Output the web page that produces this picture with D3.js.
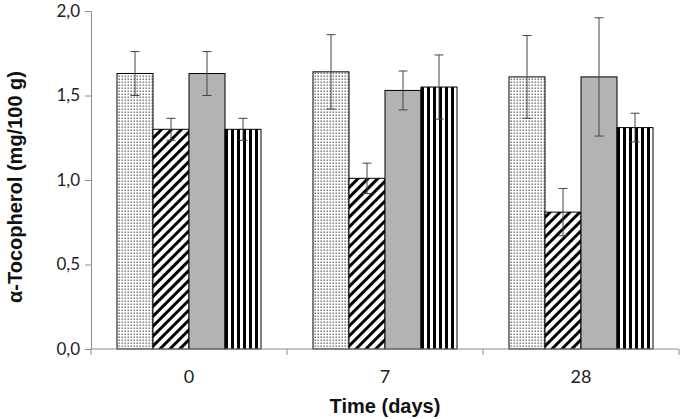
<!DOCTYPE html>
<html>
<head>
<meta charset="utf-8">
<script src="https://cdn.jsdelivr.net/npm/d3@7"></script>
<style>
  body { margin: 0; background: #fff; }
  svg { display: block; }
</style>
</head>
<body>
<div id="chart"></div>
<script>
// # Data
const days = ['0', '7', '28']
const seriesNames = ['dots', 'hatch', 'grey', 'stripes']
const dotsValues = [1.63, 1.64, 1.61]
const dotsErr = [0.13, 0.22, 0.245]
const hatchValues = [1.30, 1.01, 0.81]
const hatchErr = [0.065, 0.09, 0.14]
const greyValues = [1.63, 1.53, 1.61]
const greyErr = [0.13, 0.115, 0.35]
const stripesValues = [1.30, 1.55, 1.31]
const stripesErr = [0.065, 0.19, 0.085]
const yTicks = [0, 0.5, 1.0, 1.5, 2.0]

const width = 682
const height = 419
const margin = {top: 11, right: 3, bottom: 70, left: 91}

const values = [dotsValues, hatchValues, greyValues, stripesValues]
const errors = [dotsErr, hatchErr, greyErr, stripesErr]

// # Flat rows for drawing
const rows = []
days.forEach((day, i) => {
    seriesNames.forEach((s, j) => {
        rows.push({day: day, series: s, value: values[j][i], err: errors[j][i]})
    })
})

const svg = d3.select('#chart')
    .append('svg')
    .attr('width', width)
    .attr('height', height)

// # Fill patterns
const defs = svg.append('defs')

const dots = defs.append('pattern')
    .attr('id', 'p-dots')
    .attr('patternUnits', 'userSpaceOnUse')
    .attr('width', 3).attr('height', 3)
dots.append('rect').attr('width', 3).attr('height', 3).attr('fill', '#fff')
dots.append('rect').attr('x', 0.5).attr('y', 0.5).attr('width', 1.4).attr('height', 1.4).attr('fill', '#666')

const hatch = defs.append('pattern')
    .attr('id', 'p-hatch')
    .attr('patternUnits', 'userSpaceOnUse')
    .attr('width', 7).attr('height', 7)
    .attr('patternTransform', 'rotate(45)')
hatch.append('rect').attr('width', 7).attr('height', 7).attr('fill', '#fff')
hatch.append('rect').attr('x', 0).attr('width', 3).attr('height', 7).attr('fill', '#000')

const stripes = defs.append('pattern')
    .attr('id', 'p-stripes')
    .attr('patternUnits', 'userSpaceOnUse')
    .attr('width', 6).attr('height', 6)
stripes.append('rect').attr('width', 6).attr('height', 6).attr('fill', '#fff')
stripes.append('rect').attr('x', 2).attr('width', 3).attr('height', 6).attr('fill', '#000')

const fills = {dots: 'url(#p-dots)', hatch: 'url(#p-hatch)', grey: '#b3b3b3', stripes: 'url(#p-stripes)'}

// # Scales
const x0 = d3.scaleBand()
    .domain(days)
    .range([margin.left, width - margin.right])
    .paddingInner(0)
    .paddingOuter(0)

const groupPad = 26
const x1 = d3.scaleBand()
    .domain(seriesNames)
    .range([groupPad, x0.bandwidth() - groupPad])

const y = d3.scaleLinear()
    .domain([0, 2])
    .range([height - margin.bottom, margin.top])

const axisColor = '#8c8c8c'

// # Y axis
const yAxis = svg.append('g')
    .attr('transform', 'translate(' + margin.left + ',0)')
    .call(d3.axisLeft(y).tickValues(yTicks).tickSize(6).tickSizeOuter(0)
        .tickFormat(d => d3.format('.1f')(d).replace('.', ',')))
yAxis.select('.domain').attr('stroke', axisColor)
yAxis.selectAll('.tick line').attr('stroke', axisColor)
yAxis.selectAll('.tick text')
    .attr('x', -11)
    .attr('fill', '#222')
    .style('font-family', 'Lato, "Open Sans", sans-serif')
    .style('font-size', '17px')

// # Bars
const groups = svg.append('g')
    .selectAll('g')
    .data(days)
    .enter().append('g')
    .attr('transform', d => 'translate(' + x0(d) + ',0)')

groups.selectAll('rect')
    .data(d => rows.filter(r => r.day === d))
    .enter().append('rect')
    .attr('x', d => x1(d.series))
    .attr('y', d => y(d.value))
    .attr('width', x1.bandwidth())
    .attr('height', d => y(0) - y(d.value))
    .attr('fill', d => fills[d.series])
    .attr('stroke', '#000')
    .attr('stroke-width', 1)

// # Error bars
const capW = 4.5
const errG = groups.selectAll('g.err')
    .data(d => rows.filter(r => r.day === d))
    .enter().append('g')
    .attr('class', 'err')
    .attr('stroke', '#444')
    .attr('stroke-width', 1)
const cx = d => x1(d.series) + x1.bandwidth() / 2
errG.append('line')
    .attr('x1', cx).attr('x2', cx)
    .attr('y1', d => y(d.value + d.err))
    .attr('y2', d => y(d.value - d.err))
errG.append('line')
    .attr('x1', d => cx(d) - capW).attr('x2', d => cx(d) + capW)
    .attr('y1', d => y(d.value + d.err)).attr('y2', d => y(d.value + d.err))
errG.append('line')
    .attr('x1', d => cx(d) - capW).attr('x2', d => cx(d) + capW)
    .attr('y1', d => y(d.value - d.err)).attr('y2', d => y(d.value - d.err))

// # X axis (ticks sit on category boundaries)
const xAxisG = svg.append('g')
    .attr('transform', 'translate(0,' + y(0) + ')')
xAxisG.append('line')
    .attr('x1', margin.left).attr('x2', width - margin.right)
    .attr('stroke', axisColor)
const boundaries = [x0.range()[0]].concat(days.map(d => x0(d) + x0.bandwidth()))
xAxisG.selectAll('line.tk')
    .data(boundaries)
    .enter().append('line')
    .attr('class', 'tk')
    .attr('x1', d => d).attr('x2', d => d)
    .attr('y1', 0).attr('y2', 6)
    .attr('stroke', axisColor)
xAxisG.selectAll('text')
    .data(days)
    .enter().append('text')
    .attr('x', d => x0(d) + x0.bandwidth() / 2)
    .attr('y', 34)
    .attr('text-anchor', 'middle')
    .attr('fill', '#222')
    .style('font-family', 'Lato, "Open Sans", sans-serif')
    .style('font-size', '18px')
    .text(d => d)

// # Axis titles
svg.append('text')
    .attr('x', (margin.left + width - margin.right) / 2)
    .attr('y', 413)
    .attr('text-anchor', 'middle')
    .style('font-family', '"Liberation Sans", Arial, sans-serif')
    .style('font-weight', 'bold')
    .style('font-size', '20px')
    .attr('fill', '#111')
    .text('Time (days)')

svg.append('text')
    .attr('transform', 'translate(22,' + 187 + ') rotate(-90)')
    .attr('text-anchor', 'middle')
    .style('font-family', '"Liberation Sans", Arial, sans-serif')
    .style('font-weight', 'bold')
    .style('font-size', '20px')
    .attr('fill', '#111')
    .text('α-Tocopherol (mg/100 g)')
</script>
</body>
</html>
